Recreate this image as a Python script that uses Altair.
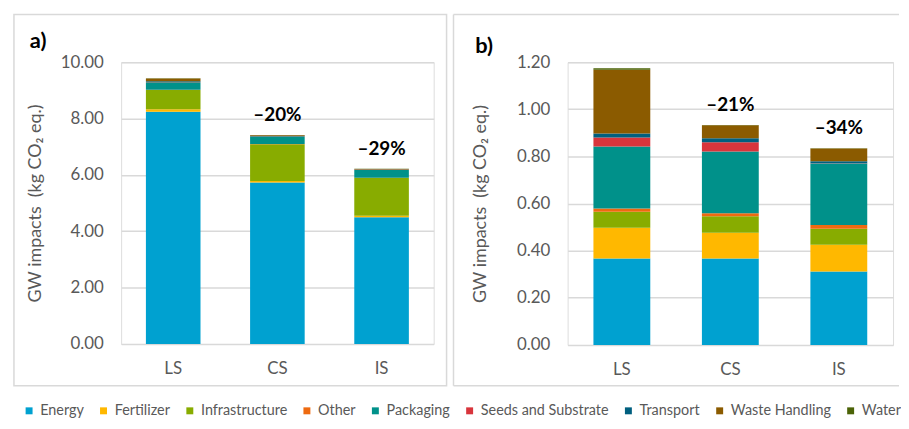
import altair as alt
import pandas as pd

scenarios = ["LS", "CS", "IS"]
categories = ["Energy", "Fertilizer", "Infrastructure", "Other", "Packaging",
              "Seeds and Substrate", "Transport", "Waste Handling", "Water"]
colors = ["#00A1D0", "#FFB800", "#88AC00", "#EE6A10", "#00918A",
          "#D8353C", "#005F7F", "#8B5B00", "#4B6307"]

# Panel a) values per category, for LS, CS, IS
a_energy = [8.24, 5.73, 4.50]
a_fertilizer = [0.09, 0.05, 0.05]
a_infrastructure = [0.68, 1.31, 1.34]
a_other = [0.01, 0.01, 0.01]
a_packaging = [0.27, 0.27, 0.27]
a_seeds = [0.01, 0.01, 0.01]
a_transport = [0.02, 0.01, 0.01]
a_waste = [0.10, 0.03, 0.02]
a_water = [0.01, 0.00, 0.01]
a_reductions = ["", "\u201320%", "\u201329%"]

# Panel b) values per category, for LS, CS, IS
b_energy = [0.367, 0.367, 0.312]
b_fertilizer = [0.130, 0.109, 0.113]
b_infrastructure = [0.068, 0.070, 0.068]
b_other = [0.014, 0.013, 0.016]
b_packaging = [0.263, 0.262, 0.261]
b_seeds = [0.038, 0.039, 0.001]
b_transport = [0.017, 0.017, 0.009]
b_waste = [0.271, 0.055, 0.054]
b_water = [0.006, 0.001, 0.001]
b_reductions = ["", "\u201321%", "\u201334%"]

a_ticks = [0, 2, 4, 6, 8, 10]
b_ticks = [0, 0.2, 0.4, 0.6, 0.8, 1.0, 1.2]

y_title = "GW impacts\u00a0 (kg CO\u2082 eq.)"
GRAY = "#595959"
FRAME = "#D9D9D9"
FONT = "Lato"


def make_df(series, reductions):
    rows = []
    for ci, cat in enumerate(categories):
        for si, s in enumerate(scenarios):
            rows.append({"scenario": s, "category": cat, "order": ci,
                         "value": series[ci][si], "reduction": reductions[si]})
    return pd.DataFrame(rows)


df_a = make_df([a_energy, a_fertilizer, a_infrastructure, a_other, a_packaging,
                a_seeds, a_transport, a_waste, a_water], a_reductions)
df_b = make_df([b_energy, b_fertilizer, b_infrastructure, b_other, b_packaging,
                b_seeds, b_transport, b_waste, b_water], b_reductions)


def panel(df, label, ticks, ymax, width, height, title_pad, frame, label_xy, show_legend, closed):
    xenc = alt.X("scenario:N", sort=scenarios,
                 scale=alt.Scale(paddingInner=0.476, paddingOuter=0.238),
                 axis=alt.Axis(title=None, labelAngle=0, ticks=False, domain=False,
                               labelPadding=17, labelFontSize=17, labelColor=GRAY,
                               labelFont=FONT, grid=False))
    color_kwargs = {"scale": alt.Scale(domain=categories, range=colors)}
    if show_legend:
        color_kwargs["legend"] = alt.Legend(
            title=None, orient="none", legendX=-100, legendY=344,
            direction="horizontal", symbolType="square", symbolSize=49,
            labelFont=FONT, labelFontSize=14.5, labelColor=GRAY, columnPadding=12,
            labelOffset=4, columns=9, labelLimit=300)
    bars = alt.Chart(df).mark_bar().encode(
        x=xenc,
        y=alt.Y("value:Q", stack="zero",
                scale=alt.Scale(domain=[0, ymax], nice=False, zero=True),
                axis=alt.Axis(values=ticks, format=".2f", title=y_title,
                              titleFont=FONT, titleFontSize=18, titleFontWeight="normal",
                              titleColor=GRAY, titlePadding=title_pad,
                              labelFont=FONT, labelFontSize=17, labelColor=GRAY,
                              labelPadding=18, ticks=False, domain=False,
                              gridColor="#D9D9D9", gridWidth=1.5)),
        color=alt.Color("category:N", **color_kwargs),
        order=alt.Order("order:Q", sort="ascending"),
    )
    text = alt.Chart(df).transform_aggregate(
        total="sum(value)", groupby=["scenario", "reduction"]
    ).mark_text(font=FONT, fontSize=19, fontWeight="bold", color="black",
                baseline="alphabetic", dy=-14).encode(
        x=alt.X("scenario:N", sort=scenarios),
        y="total:Q",
        text="reduction:N",
    )
    lab_df = pd.DataFrame({"panel": [label]})
    x1, x2, y1, y2 = frame
    if closed:
        boxes = [alt.Chart(lab_df).mark_rect(fill="transparent", stroke=FRAME,
                                             strokeWidth=1.5).encode(
            x=alt.value(x1), x2=alt.value(x2), y=alt.value(y1), y2=alt.value(y2))]
    else:
        rule = alt.Chart(lab_df).mark_rule(color=FRAME, strokeWidth=1.5)
        boxes = [
            rule.encode(x=alt.value(x1), y=alt.value(y1), y2=alt.value(y2)),
            rule.encode(x=alt.value(x1), x2=alt.value(x2), y=alt.value(y1)),
            rule.encode(x=alt.value(x1), x2=alt.value(x2), y=alt.value(y2)),
        ]
    plabel = alt.Chart(lab_df).mark_text(font=FONT, fontSize=22, fontWeight="bold",
                                         color="black", align="left",
                                         baseline="middle").encode(
        x=alt.value(label_xy[0]), y=alt.value(label_xy[1]), text="panel:N")
    return alt.layer(*boxes, bars, text, plabel).properties(width=width, height=height)


pa = panel(df_a, "a)", a_ticks, 10, 315, 284, 16, (-108, 328, -48, 326), (-92, -21), True, True)
pb = panel(df_b, "b)", b_ticks, 1.2, 328, 285, 27, (-115, 334, -48, 326), (-93, -16), False, False)

chart = alt.hconcat(pa, pb, spacing=3).properties(
    padding={"left": 4, "top": 3, "right": 0, "bottom": 0}
).configure_view(stroke=None).configure(background="white")

chart.save("out.html", embed_options={"renderer": "svg", "actions": False})
